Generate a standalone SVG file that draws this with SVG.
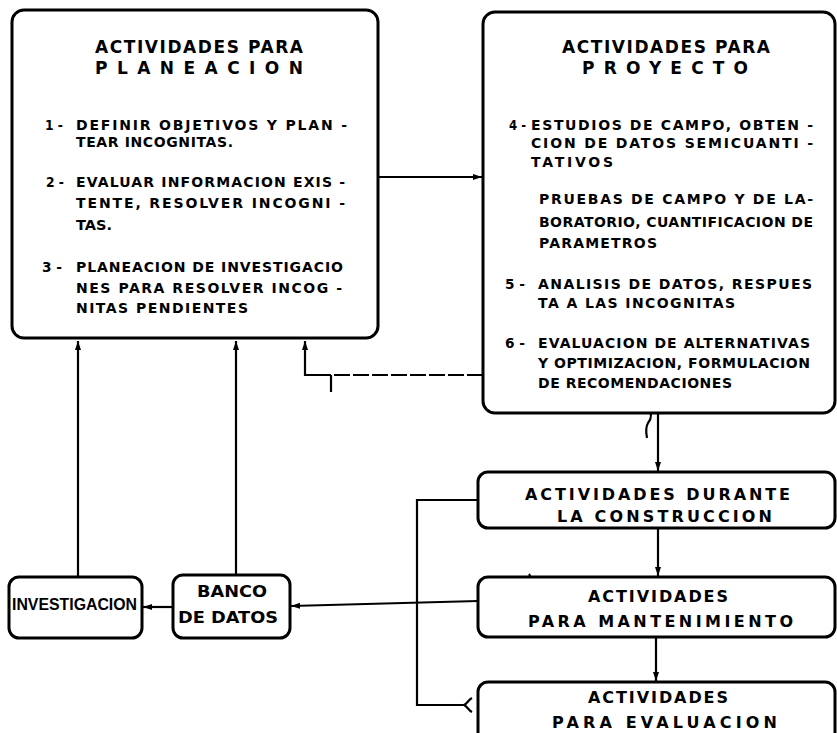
<svg xmlns="http://www.w3.org/2000/svg" width="837" height="733" viewBox="0 0 837 733">
<defs>
<marker id="ah" markerWidth="10" markerHeight="8" refX="9" refY="4" orient="auto" markerUnits="userSpaceOnUse">
<path d="M0,1 L9,4 L0,7 Z" fill="#000"/>
</marker>
<style>
.box{fill:#fff;stroke:#000;stroke-width:3}
.ln{fill:none;stroke:#000;stroke-width:2.2}
text{font-family:"DejaVu Sans","Liberation Sans",sans-serif;font-weight:bold;fill:#000}
.t{font-size:17px}
.i{font-size:14px}
.s{font-size:16px}
.n{font-family:"Liberation Sans",Arial,sans-serif;font-size:16px}
</style>
</defs>
<rect width="837" height="733" fill="#fff"/>

<g id="connectors">
<line class="ln" x1="378" y1="177" x2="482" y2="177" marker-end="url(#ah)"/>
<path class="ln" d="M483,375 L330,375" stroke-dasharray="16,3"/>
<path class="ln" d="M331,375 L305,375 L305,341" marker-end="url(#ah)"/>
<line class="ln" x1="331" y1="375" x2="331" y2="392"/>
<line class="ln" x1="78" y1="577" x2="78" y2="341" marker-end="url(#ah)"/>
<line class="ln" x1="236" y1="575" x2="236" y2="341" marker-end="url(#ah)"/>
<line class="ln" x1="173" y1="607" x2="143" y2="607" marker-end="url(#ah)"/>
<line class="ln" x1="478" y1="601" x2="291" y2="606" marker-end="url(#ah)"/>
<line class="ln" x1="658" y1="413" x2="658" y2="471" marker-end="url(#ah)"/>
<path class="ln" d="M648,408 C652,413 652,418 648,423 C645,428 646,433 647,438" stroke-width="3"/>
<line class="ln" x1="658" y1="528" x2="658" y2="576" marker-end="url(#ah)"/>
<line class="ln" x1="656" y1="637" x2="656" y2="681" marker-end="url(#ah)"/>
<path class="ln" d="M478,500 L417,500 L417,705 L464,705"/>
<path class="ln" d="M472,698 C468,700 468,703 464,705 C468,707 468,710 472,712"/>
<path class="ln" d="M529,574 C532,578 532,582 528,588" stroke-width="1.8"/>
</g>

<g id="planeacion">
<rect class="box" x="12" y="10" width="366" height="328" rx="12"/>
<text class="t" x="95" y="53" textLength="208" lengthAdjust="spacing">ACTIVIDADES  PARA</text>
<text class="t" x="95" y="74" textLength="208" lengthAdjust="spacing">PLANEACION</text>
<text class="i" x="45" y="130" textLength="18" lengthAdjust="spacingAndGlyphs">1 -</text>
<text class="i" x="76" y="130" textLength="271" lengthAdjust="spacing">DEFINIR OBJETIVOS Y PLAN -</text>
<text class="i" x="76" y="147" textLength="157" lengthAdjust="spacing">TEAR INCOGNITAS.</text>
<text class="i" x="46" y="187" textLength="18" lengthAdjust="spacingAndGlyphs">2 -</text>
<text class="i" x="76" y="187" textLength="269" lengthAdjust="spacing">EVALUAR INFORMACION EXIS -</text>
<text class="i" x="76" y="208" textLength="269" lengthAdjust="spacing">TENTE, RESOLVER INCOGNI -</text>
<text class="i" x="76" y="230" textLength="36" lengthAdjust="spacingAndGlyphs">TAS.</text>
<text class="i" x="42" y="272" textLength="20" lengthAdjust="spacingAndGlyphs">3 -</text>
<text class="i" x="76" y="272" textLength="267" lengthAdjust="spacing">PLANEACION DE INVESTIGACIO</text>
<text class="i" x="76" y="293" textLength="266" lengthAdjust="spacing">NES PARA RESOLVER INCOG -</text>
<text class="i" x="76" y="313" textLength="172" lengthAdjust="spacing">NITAS PENDIENTES</text>
</g>

<g id="proyecto">
<rect class="box" x="483" y="12" width="352" height="401" rx="12"/>
<text class="t" x="562" y="53" textLength="208" lengthAdjust="spacing">ACTIVIDADES  PARA</text>
<text class="t" x="582" y="74" textLength="166" lengthAdjust="spacing">PROYECTO</text>
<text class="i" x="509" y="130" textLength="17" lengthAdjust="spacingAndGlyphs">4 -</text>
<text class="i" x="531" y="130" textLength="282" lengthAdjust="spacing">ESTUDIOS DE CAMPO, OBTEN -</text>
<text class="i" x="531" y="148" textLength="282" lengthAdjust="spacing">CION DE DATOS SEMICUANTI -</text>
<text class="i" x="531" y="167" textLength="82" lengthAdjust="spacing">TATIVOS</text>
<text class="i" x="539" y="204" textLength="274" lengthAdjust="spacing">PRUEBAS DE CAMPO Y DE LA-</text>
<text class="i" x="539" y="227" textLength="274" lengthAdjust="spacing">BORATORIO, CUANTIFICACION DE</text>
<text class="i" x="539" y="248" textLength="118" lengthAdjust="spacing">PARAMETROS</text>
<text class="i" x="505" y="289" textLength="20" lengthAdjust="spacingAndGlyphs">5 -</text>
<text class="i" x="538" y="289" textLength="274" lengthAdjust="spacing">ANALISIS DE DATOS, RESPUES</text>
<text class="i" x="538" y="308" textLength="197" lengthAdjust="spacing">TA A LAS INCOGNITAS</text>
<text class="i" x="505" y="348" textLength="20" lengthAdjust="spacingAndGlyphs">6 -</text>
<text class="i" x="538" y="348" textLength="272" lengthAdjust="spacing">EVALUACION DE ALTERNATIVAS</text>
<text class="i" x="538" y="368" textLength="272" lengthAdjust="spacing">Y OPTIMIZACION, FORMULACION</text>
<text class="i" x="538" y="388" textLength="194" lengthAdjust="spacing">DE RECOMENDACIONES</text>
</g>

<g id="construccion">
<rect class="box" x="478" y="472" width="357" height="56" rx="10"/>
<text class="s" x="525" y="500" textLength="265" lengthAdjust="spacing">ACTIVIDADES  DURANTE</text>
<text class="s" x="557" y="522" textLength="215" lengthAdjust="spacing">LA  CONSTRUCCION</text>
</g>

<g id="mantenimiento">
<rect class="box" x="478" y="577" width="357" height="60" rx="10"/>
<text class="s" x="588" y="602" textLength="140" lengthAdjust="spacing">ACTIVIDADES</text>
<text class="s" x="528" y="627" textLength="265" lengthAdjust="spacing">PARA  MANTENIMIENTO</text>
</g>

<g id="evaluacion">
<rect class="box" x="478" y="682" width="357" height="64" rx="10"/>
<text class="s" x="588" y="703" textLength="140" lengthAdjust="spacing">ACTIVIDADES</text>
<text class="s" x="552" y="728" textLength="225" lengthAdjust="spacing">PARA  EVALUACION</text>
</g>

<g id="investigacion">
<rect class="box" x="9" y="577" width="133" height="61" rx="10"/>
<text class="n" x="12" y="610" textLength="125" lengthAdjust="spacingAndGlyphs">INVESTIGACION</text>
</g>

<g id="banco">
<rect class="box" x="173" y="575" width="117" height="63" rx="10"/>
<text class="s" x="197" y="597" textLength="70" lengthAdjust="spacingAndGlyphs">BANCO</text>
<text class="s" x="178" y="623" textLength="100" lengthAdjust="spacingAndGlyphs">DE  DATOS</text>
</g>
</svg>
